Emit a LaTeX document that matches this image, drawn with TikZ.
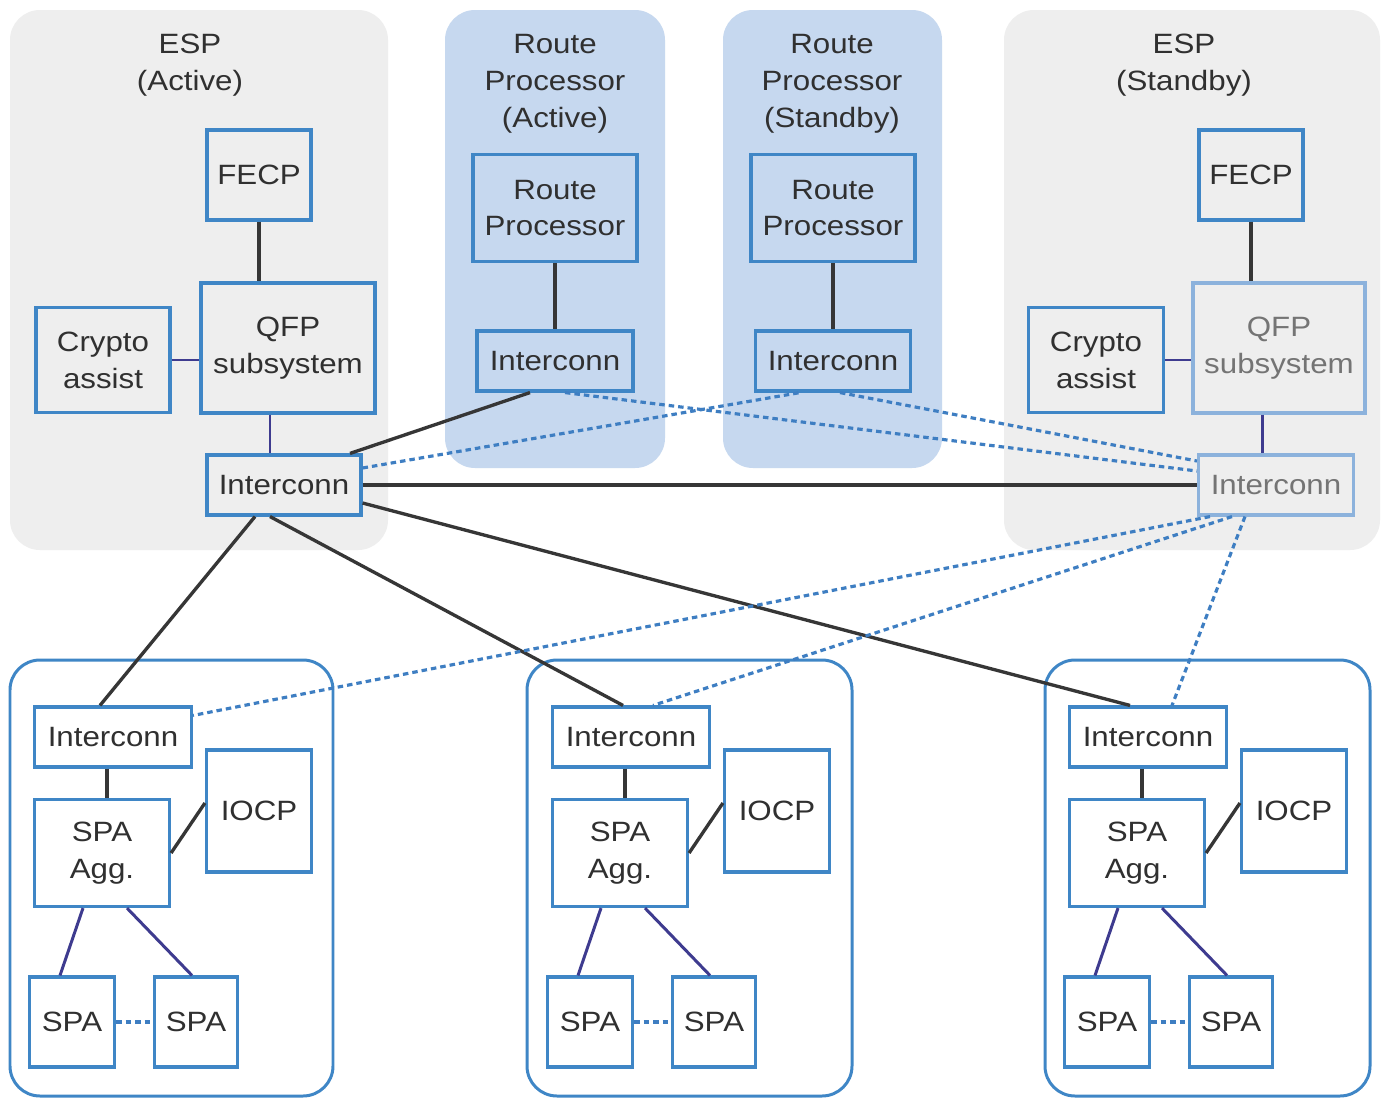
\documentclass[tikz,border=0pt]{standalone}
\usepackage{fontspec}
\setmainfont{Liberation Sans}[FakeStretch=1.12]
\usepackage{xcolor}
\usepackage{tikz}
\usetikzlibrary{calc}

\definecolor{espgray}{HTML}{EEEEEE}
\definecolor{rpblue}{HTML}{C6D8EF}
\definecolor{boxblue}{HTML}{3F86C6}
\definecolor{fadeblue}{HTML}{8CB2DC}
\definecolor{txtgray}{HTML}{303030}
\definecolor{fadetxt}{HTML}{747474}
\definecolor{wiregray}{HTML}{363636}
\definecolor{linkpurple}{HTML}{3E3B8F}
\definecolor{dashblue}{HTML}{3E7EC2}

\begin{document}
\begin{tikzpicture}[
    x=0.02cm, y=-0.02cm,
    box/.style={rectangle, draw=boxblue, line width=1.8pt, inner sep=0pt, align=center, text=txtgray, font=\fontsize{15.9}{21}\selectfont},
    faded/.style={draw=fadeblue, text=fadetxt},
    title/.style={align=center, text=txtgray, font=\fontsize{15.9}{21}\selectfont},
    wh/.style 2 args={minimum width=#1cm, minimum height=#2cm},
    panel/.style={rounded corners=0.6cm},
    card/.style={draw=boxblue, line width=1.7pt, fill=white, rounded corners=0.6cm},
    wire/.style={draw=wiregray, line width=1.9pt},
    link/.style={draw=linkpurple, line width=1.7pt},
    dashlink/.style={draw=dashblue, line width=1.8pt, dash pattern=on 0.11cm off 0.08cm}
]
    \useasboundingbox (0,0) rectangle (1386,1099);
    \fill[white] (0,0) rectangle (1386,1099);

    % chassis panels
    \fill[panel, espgray] (10,10) rectangle (388,550);
    \fill[panel, rpblue] (445,10) rectangle (665,468);
    \fill[panel, rpblue] (723,10) rectangle (942,468);
    \fill[panel, espgray] (1004,10) rectangle (1380,550);
    \draw[card] (10,660) rectangle (333,1096);
    \draw[card] (527,660) rectangle (852,1096);
    \draw[card] (1045,660) rectangle (1370,1096);

    % ESP (Active)
    \node[title] (espa-title) at (190,65) {ESP\\(Active)};
    \node[box, wh={2.08}{1.8}] (espa-fecp) at (259,175) {FECP};
    \node[box, wh={3.48}{2.6}] (espa-qfp) at (288,348) {QFP\\subsystem};
    \node[box, wh={2.68}{2.1}] (espa-cry) at (103,360) {Crypto\\assist};
    \node[box, wh={3.08}{1.2}] (espa-int) at (284,485) {Interconn};

    % Route Processor (Active)
    \node[title] (rpa-title) at (555,84) {Route\\Processor\\(Active)};
    \node[box, wh={3.28}{2.14}] (rpa-rp) at (555,208) {Route\\Processor};
    \node[box, wh={3.12}{1.2}] (rpa-int) at (555,361) {Interconn};

    % Route Processor (Standby)
    \node[title] (rps-title) at (832,84) {Route\\Processor\\(Standby)};
    \node[box, wh={3.28}{2.14}] (rps-rp) at (833,208) {Route\\Processor};
    \node[box, wh={3.1}{1.2}] (rps-int) at (833,361) {Interconn};

    % ESP (Standby)
    \node[title] (esps-title) at (1184,65) {ESP\\(Standby)};
    \node[box, wh={2.08}{1.8}] (esps-fecp) at (1251,175) {FECP};
    \node[box, faded, wh={3.44}{2.6}] (esps-qfp) at (1279,348) {QFP\\subsystem};
    \node[box, wh={2.7}{2.1}] (esps-cry) at (1096,360) {Crypto\\assist};
    \node[box, faded, wh={3.1}{1.2}] (esps-int) at (1276,485) {Interconn};

    % line cards
    \node[box, wh={3.14}{1.2}] (lc1-int) at (113,737) {Interconn};
    \node[box, wh={2.7}{2.14}] (lc1-agg) at (102,853) {SPA\\Agg.};
    \node[box, wh={2.1}{2.44}] (lc1-iocp) at (259,811) {IOCP};
    \node[box, wh={1.7}{1.8}] (lc1-spa1) at (72,1022) {SPA};
    \node[box, wh={1.66}{1.8}] (lc1-spa2) at (196,1022) {SPA};

    \node[box, wh={3.14}{1.2}] (lc2-int) at (631,737) {Interconn};
    \node[box, wh={2.7}{2.14}] (lc2-agg) at (620,853) {SPA\\Agg.};
    \node[box, wh={2.1}{2.44}] (lc2-iocp) at (777,811) {IOCP};
    \node[box, wh={1.7}{1.8}] (lc2-spa1) at (590,1022) {SPA};
    \node[box, wh={1.66}{1.8}] (lc2-spa2) at (714,1022) {SPA};

    \node[box, wh={3.14}{1.2}] (lc3-int) at (1148,737) {Interconn};
    \node[box, wh={2.7}{2.14}] (lc3-agg) at (1137,853) {SPA\\Agg.};
    \node[box, wh={2.1}{2.44}] (lc3-iocp) at (1294,811) {IOCP};
    \node[box, wh={1.7}{1.8}] (lc3-spa1) at (1107,1022) {SPA};
    \node[box, wh={1.66}{1.8}] (lc3-spa2) at (1231,1022) {SPA};

    % links inside the cards
    \draw[wire] (espa-fecp.south) -- (espa-fecp.south |- espa-qfp.north);
    \draw[link] (espa-cry.east) -- (espa-cry.east -| espa-qfp.west);
    \draw[link] ($(espa-qfp.south)+(-18,0)$) -- ($(espa-int.north)+(-14,0)$);
    \draw[wire] (rpa-rp.south) -- (rpa-int.north);
    \draw[wire] (rps-rp.south) -- (rps-int.north);
    \draw[wire] (esps-fecp.south) -- (esps-fecp.south |- esps-qfp.north);
    \draw[link] (esps-cry.east) -- (esps-cry.east -| esps-qfp.west);
    \draw[link] ($(esps-qfp.south)+(-17,0)$) -- ($(esps-int.north)+(-14,0)$);

    \foreach \n in {1,2,3} {
        \draw[wire] ($(lc\n-int.south)+(-6,0)$) -- ($(lc\n-agg.north)+(5,0)$);
        \draw[wire] (lc\n-agg.east) -- ($(lc\n-iocp.west)+(0,-8)$);
        \draw[link] ($(lc\n-agg.south)+(-19,0)$) -- ($(lc\n-spa1.north)+(-12,0)$);
        \draw[link] ($(lc\n-agg.south)+(25,0)$) -- ($(lc\n-spa2.north)+(-4,0)$);
        \draw[dashlink] (lc\n-spa1.east) -- (lc\n-spa2.west);
    }

    % active paths
    \draw[wire] ($(espa-int.north)+(66,0)$) -- ($(rpa-int.south)+(-25,0)$);
    \draw[wire] (espa-int.east) -- (esps-int.west);
    \draw[wire] ($(espa-int.south)+(-29,0)$) -- ($(lc1-int.north)+(-13,0)$);
    \draw[wire] ($(espa-int.south)+(-14,0)$) -- ($(lc2-int.north)+(-8,0)$);
    \draw[wire] ($(espa-int.east)+(0,18)$) -- ($(lc3-int.north)+(-18,0)$);

    % standby paths
    \draw[dashlink] ($(espa-int.east)+(0,-17)$) -- ($(rps-int.south)+(-33,0)$);
    \draw[dashlink] ($(rpa-int.south)+(10,0)$) -- ($(esps-int.west)+(0,-14)$);
    \draw[dashlink] ($(rps-int.south)+(7,0)$) -- ($(esps-int.west)+(0,-24)$);
    \draw[dashlink] ($(esps-int.south)+(-66,0)$) -- ($(lc1-int.north east)+(0,10)$);
    \draw[dashlink] ($(esps-int.south)+(-44,0)$) -- ($(lc2-int.north)+(22,0)$);
    \draw[dashlink] ($(esps-int.south)+(-31,0)$) -- ($(lc3-int.north)+(24,0)$);
\end{tikzpicture}
\end{document}
